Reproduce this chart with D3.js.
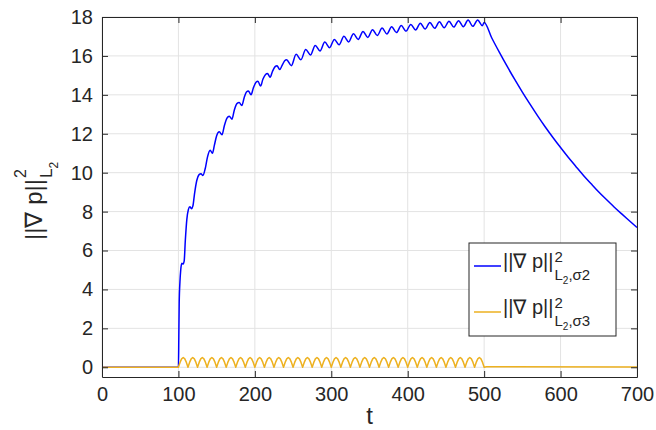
<!DOCTYPE html>
<html>
<head>
<meta charset="utf-8">
<script src="https://cdn.jsdelivr.net/npm/d3@7"></script>
<style>
  body { margin: 0; background: #fff; }
  text { font-family: "Liberation Sans", Arial, Helvetica, sans-serif; fill: #262626; }
</style>
</head>
<body>
<div id="chart"></div>
<script>
// ticks
var xTicks = [0, 100, 200, 300, 400, 500, 600, 700];
var yTicks = [0, 2, 4, 6, 8, 10, 12, 14, 16, 18];

// blue series (sigma2): time and value
var blueT = [0, 100, 100.5, 101, 102, 103, 104.5, 106, 107.5, 109, 111, 113, 115, 117, 119, 121, 124, 127,
  129.5, 132, 135, 138, 141.5, 144.5, 147, 150, 153.5, 157, 160, 163.5, 166.5, 170, 173, 176.5, 179.5,
  183, 186, 189, 191.5, 195, 198, 201.5, 204, 207.5, 210.5, 214, 216.5, 220, 223, 226.5, 229, 232.5,
  235.5, 239, 241.5, 247.75, 254, 260.25, 266.5, 272.75, 279, 285.25, 291.5, 297.75, 304, 310.25,
  316.5, 322.75, 329, 335.25, 341.5, 347.75, 354, 360.25, 366.5, 372.75, 379, 385.25, 391.5, 397.75,
  404, 410.25, 416.5, 422.75, 429, 435.25, 441.5, 447.75, 454, 460.25, 466.5, 472.75, 479, 485.25,
  491.5, 497.75, 500, 510, 520, 530, 540, 550, 560, 570, 580, 590, 600, 610, 620, 630, 640, 650, 660,
  670, 680, 690, 700];
var blueV = [0, 0, 1.5, 3.3, 4.4, 5.0, 5.35, 5.3, 5.45, 6.5, 7.6, 8.1, 8.25, 8.15, 8.3, 8.9, 9.6, 9.9,
  9.95, 9.85, 10.2, 10.8, 11.15, 11.0, 11.4, 11.9, 12.1, 11.95, 12.4, 12.8, 12.9, 12.75, 13.2, 13.55, 13.6,
  13.45, 13.85, 14.15, 14.2, 14.0, 14.35, 14.65, 14.7, 14.45, 14.8, 15.05, 15.1, 14.9, 15.2, 15.45, 15.5, 15.3,
  15.5, 15.75, 15.8, 15.5, 16.08, 15.8, 16.33, 16.05, 16.54, 16.25, 16.71, 16.42, 16.85, 16.57,
  17.01, 16.72, 17.14, 16.85, 17.26, 16.95, 17.35, 17.05, 17.43, 17.13, 17.5, 17.2, 17.56, 17.27,
  17.62, 17.33, 17.68, 17.38, 17.72, 17.42, 17.75, 17.45, 17.78, 17.48, 17.81, 17.5, 17.84, 17.52,
  17.85, 17.55, 17.72, 16.92, 16.18, 15.47, 14.79, 14.14, 13.52, 12.92, 12.35, 11.81, 11.29, 10.79, 10.32,
  9.86, 9.43, 9.01, 8.62, 8.24, 7.88, 7.53, 7.18];

// yellow series (sigma3): humps from t=100 to t=500, sampled every 12.5/6
var yellowStart = 100, yellowStep = 12.5 / 6;
var yellowV = [
  0, .25, .43, .5, .43, .25,  0, .25, .43, .5, .43, .25,
  0, .25, .43, .5, .43, .25,  0, .25, .43, .5, .43, .25,
  0, .25, .43, .5, .43, .25,  0, .25, .43, .5, .43, .25,
  0, .25, .43, .5, .43, .25,  0, .25, .43, .5, .43, .25,
  0, .25, .43, .5, .43, .25,  0, .25, .43, .5, .43, .25,
  0, .25, .43, .5, .43, .25,  0, .25, .43, .5, .43, .25,
  0, .25, .43, .5, .43, .25,  0, .25, .43, .5, .43, .25,
  0, .25, .43, .5, .43, .25,  0, .25, .43, .5, .43, .25,
  0, .25, .43, .5, .43, .25,  0, .25, .43, .5, .43, .25,
  0, .25, .43, .5, .43, .25,  0, .25, .43, .5, .43, .25,
  0, .25, .43, .5, .43, .25,  0, .25, .43, .5, .43, .25,
  0, .25, .43, .5, .43, .25,  0, .25, .43, .5, .43, .25,
  0, .25, .43, .5, .43, .25,  0, .25, .43, .5, .43, .25,
  0, .25, .43, .5, .43, .25,  0, .25, .43, .5, .43, .25,
  0, .25, .43, .5, .43, .25,  0, .25, .43, .5, .43, .25,
  0, .25, .43, .5, .43, .25,  0, .25, .43, .5, .43, .25,
  0];
var yellowBefore = [[0, 0], [100, 0]];
var yellowAfter = [[503, 0.03], [700, 0.02]];

var width = 656, height = 430;
var margin = {top: 17, right: 19, bottom: 53, left: 102};

var svg = d3.select("#chart").append("svg")
  .attr("width", width)
  .attr("height", height);

var x = d3.scaleLinear()
  .domain([0, 700])
  .range([margin.left, width - margin.right]);

var y = d3.scaleLinear()
  .domain([-0.5, 18])
  .range([height - margin.bottom, margin.top]);

// grid
svg.append("g").selectAll("line.gx")
  .data(xTicks).enter().append("line")
  .attr("x1", d => x(d)).attr("x2", d => x(d))
  .attr("y1", y(-0.5)).attr("y2", y(18))
  .attr("stroke", "#e3e3e3");
svg.append("g").selectAll("line.gy")
  .data(yTicks).enter().append("line")
  .attr("x1", x(0)).attr("x2", x(700))
  .attr("y1", d => y(d)).attr("y2", d => y(d))
  .attr("stroke", "#e3e3e3");

// lines
var blueData = blueT.map((t, i) => [t, blueV[i]]);
var yellowData = yellowBefore
  .concat(yellowV.map((v, i) => [yellowStart + i * yellowStep, v]))
  .concat(yellowAfter);

svg.append("path")
  .datum(blueData)
  .attr("fill", "none")
  .attr("stroke", "#0000ff")
  .attr("stroke-width", 1.5)
  .attr("d", d3.line().x(d => x(d[0])).y(d => y(d[1])).curve(d3.curveMonotoneX));

svg.append("path")
  .datum(yellowData)
  .attr("fill", "none")
  .attr("stroke", "#edb120")
  .attr("stroke-width", 1.5)
  .attr("stroke-linejoin", "round")
  .attr("d", d3.line().x(d => x(d[0])).y(d => y(d[1])));

// axes (box with inner ticks on all sides)
var fontTick = 20;
var bottomAxis = svg.append("g")
  .attr("transform", `translate(0,${y(-0.5)})`)
  .call(d3.axisBottom(x).tickValues(xTicks).tickSizeInner(-6).tickSizeOuter(0).tickPadding(10));
var topAxis = svg.append("g")
  .attr("transform", `translate(0,${y(18)})`)
  .call(d3.axisTop(x).tickValues(xTicks).tickSizeInner(-6).tickSizeOuter(0).tickFormat(""));
var leftAxis = svg.append("g")
  .attr("transform", `translate(${x(0)},0)`)
  .call(d3.axisLeft(y).tickValues(yTicks).tickSizeInner(-6).tickSizeOuter(0).tickPadding(9));
var rightAxis = svg.append("g")
  .attr("transform", `translate(${x(700)},0)`)
  .call(d3.axisRight(y).tickValues(yTicks).tickSizeInner(-6).tickSizeOuter(0).tickFormat(""));

[bottomAxis, topAxis, leftAxis, rightAxis].forEach(function(g) {
  g.select(".domain").attr("stroke", "#262626");
  g.selectAll(".tick line").attr("stroke", "#262626");
  g.selectAll(".tick text")
    .attr("fill", "#262626")
    .style("font-size", fontTick + "px")
    .style("font-family", '"Liberation Sans", Arial, sans-serif');
});

// x label
svg.append("text")
  .attr("x", (x(0) + x(700)) / 2)
  .attr("y", 424)
  .attr("text-anchor", "middle")
  .style("font-size", "24px")
  .text("t");

// norm label with super/subscripts, built from a main text and its measured width
function normLabel(parent, o) {
  var main = parent.append("text").attr("x", 0).attr("y", 0)
    .style("font-size", o.size + "px").text("||\u2207 p||");
  var w = main.node().getComputedTextLength() + 1;
  parent.append("text").attr("x", w).attr("y", o.supY)
    .style("font-size", o.supSize + "px").text("2");
  var sub = parent.append("text").attr("x", w).attr("y", o.subY)
    .style("font-size", o.subSize + "px");
  sub.append("tspan").text("L");
  sub.append("tspan").attr("dy", o.subSubDy).style("font-size", o.subSubSize + "px").text("2");
  if (o.tail) {
    sub.append("tspan").attr("dy", -o.subSubDy).text(",\u03c3" + o.tail);
  }
}

var ylab = svg.append("g").attr("transform", "translate(42,240) rotate(-90)");
normLabel(ylab, {size: 24, supSize: 16, supY: -16, subSize: 17, subY: 10, subSubSize: 12, subSubDy: 6});

// legend
var legend = svg.append("g").attr("transform", "translate(469,243)");
legend.append("rect")
  .attr("width", 147).attr("height", 93)
  .attr("fill", "#fff").attr("stroke", "#262626").attr("stroke-width", 1);

var legendItems = [
  {color: "#0000ff", tail: "2"},
  {color: "#edb120", tail: "3"}
];
legendItems.forEach(function(item, i) {
  var cy = 23 + i * 46;
  legend.append("line")
    .attr("x1", 5).attr("x2", 32).attr("y1", cy).attr("y2", cy)
    .attr("stroke", item.color).attr("stroke-width", 1.5);
  var g = legend.append("g").attr("transform", `translate(34,${cy + 2})`);
  normLabel(g, {size: 20, supSize: 15, supY: -6, subSize: 15, subY: 12, subSubSize: 10, subSubDy: 4, tail: item.tail});
});
</script>
</body>
</html>
